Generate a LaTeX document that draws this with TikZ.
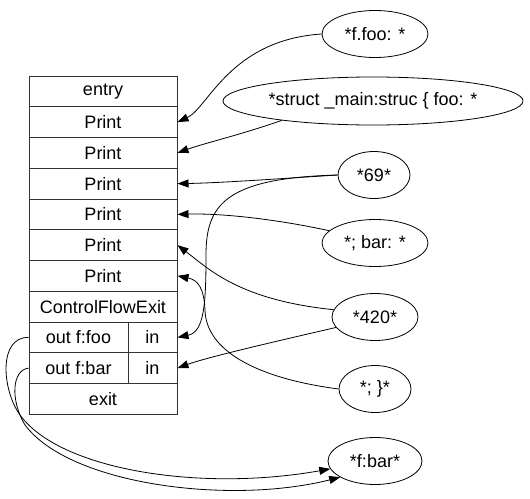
\documentclass[tikz,border=0pt]{standalone}
\usepackage{fontspec}
\setmainfont{Liberation Sans}
\usetikzlibrary{arrows.meta,shapes.geometric}

\begin{document}
\begin{tikzpicture}
  [x=1pt,y=-1pt,font=\fontsize{18}{21}\selectfont,
   field/.style={draw=black!80,line width=1pt,minimum width=148pt,minimum height=30.75pt,inner sep=0pt},
   val/.style={ellipse,draw,line width=0.8pt,minimum height=47pt,inner sep=0pt},
   link/.style={-{Triangle[length=11pt,width=8pt]},line width=0.8pt}]
  \useasboundingbox (0,0) rectangle (530,498);
  % record
  \node (entry)[field] at (103,91.375) {entry};
  \foreach \i/\y in {1/122.125,2/152.875,3/183.625,4/214.375,5/245.125,6/275.875}
    \node (p\i)[field] at (103,\y) {Print};
  \node (cfe)[field] at (103,306.625) {ControlFlowExit};
  \node (out1)[field,minimum width=99pt] at (78.5,337.375) {out f:foo};
  \node (in1)[field,minimum width=49pt] at (152.5,337.375) {in};
  \node (out2)[field,minimum width=99pt] at (78.5,368.125) {out f:bar};
  \node (in2)[field,minimum width=49pt] at (152.5,368.125) {in};
  \node (exit)[field] at (103,398.875) {exit};
  % values
  \node (ffoo)[val,minimum width=106pt] at (375,34) {*f.foo: *};
  \node (struct)[val,minimum width=300pt,minimum height=48pt] at (373,101) {*struct \_main:struc \{ foo: *};
  \node (v69)[val,minimum width=72pt] at (374,175) {*69*};
  \node (bar)[val,minimum width=106pt] at (375,243) {*; bar: *};
  \node (v420)[val,minimum width=86pt] at (375,317) {*420*};
  \node (close)[val,minimum width=72pt] at (375,389) {*; \}*};
  \node (fbar)[val,minimum width=94pt] at (375,461) {*f:bar*};
  % edges
  \draw[link] (ffoo.west) .. controls (230,40) and (208,108) .. (p1.east);
  \draw[link] (struct.192) .. controls (240,135) and (205,143) .. (p2.east);
  \draw[link] (v69.west) .. controls (290,178) and (220,183) .. (p3.east);
  \draw[link] (v69.west) .. controls (225,178) and (206,205) .. (206,255)
    .. controls (206,305) and (204,332) .. (in1.east);
  \draw[link] (bar.165) .. controls (290,222) and (230,213) .. (p4.east);
  \draw[link] (v420.170) .. controls (240,300) and (210,270) .. (p5.east);
  \draw[link] (v420.195) .. controls (260,345) and (205,358) .. (in2.east);
  \draw[link] (close.west) .. controls (255,378) and (206,350) .. (205,310)
    .. controls (204,288) and (198,280) .. (p6.east);
  \draw[link] (out1.west) .. controls (-2,337) and (2,390) .. (20,415)
    .. controls (60,470) and (200,492) .. (fbar.190);
  \draw[link] (out2.west) .. controls (12,370) and (10,400) .. (25,425)
    .. controls (70,485) and (230,505) .. (fbar.205);
\end{tikzpicture}
\end{document}
